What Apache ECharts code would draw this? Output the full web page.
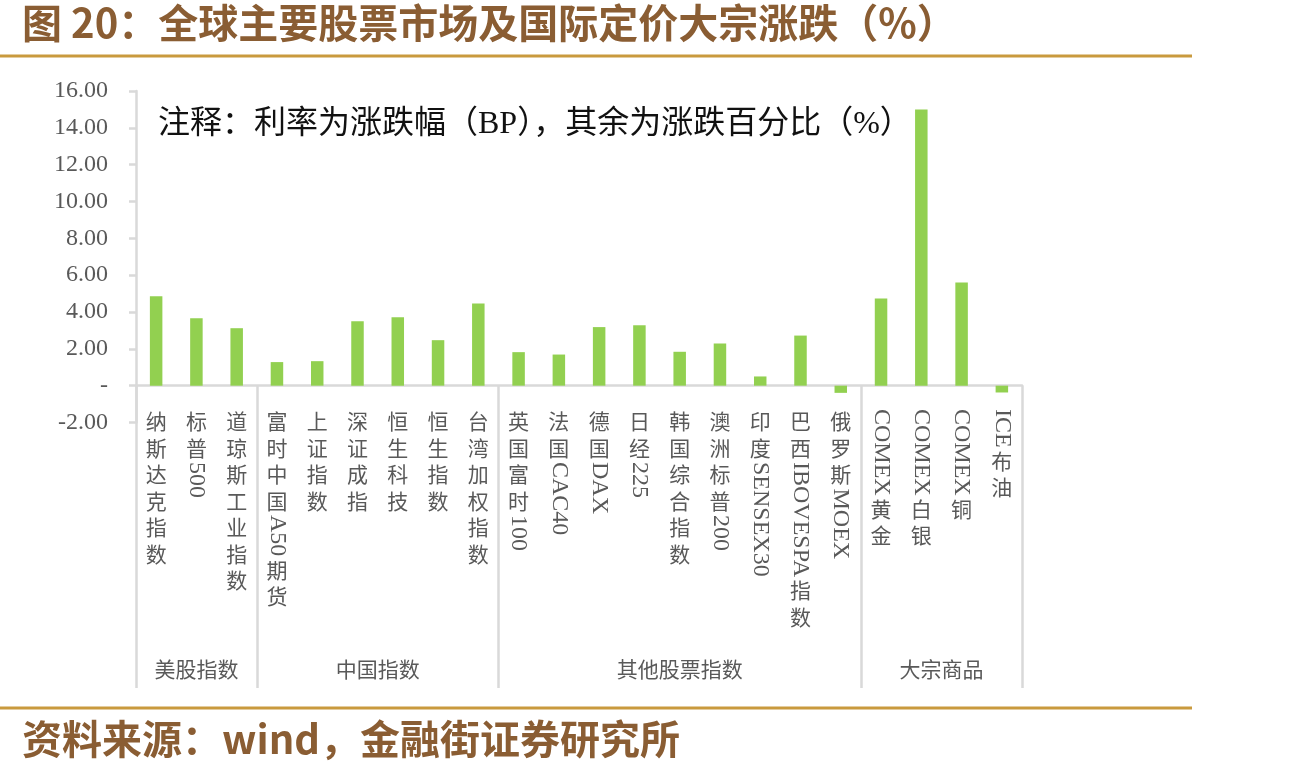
<!DOCTYPE html>
<html>
<head>
<meta charset="utf-8">
<script src="https://cdn.jsdelivr.net/npm/echarts@6/dist/echarts.min.js"></script>
<style>
  html, body { margin: 0; padding: 0; background: #fff; }
  #main { width: 1302px; height: 777px; }
</style>
</head>
<body>
<div id="main"></div>
<script>
// 品种
const categories = [
  '纳斯达克指数', '标普500', '道琼斯工业指数',
  '富时中国A50期货', '上证指数', '深证成指', '恒生科技', '恒生指数', '台湾加权指数',
  '英国富时100', '法国CAC40', '德国DAX', '日经225', '韩国综合指数', '澳洲标普200', '印度SENSEX30', '巴西IBOVESPA指数', '俄罗斯MOEX',
  'COMEX黄金', 'COMEX白银', 'COMEX铜', 'ICE布油'
];
// 涨跌 (%)
const changes = [
  4.86, 3.66, 3.12,
  1.28, 1.33, 3.50, 3.72, 2.47, 4.46,
  1.82, 1.69, 3.18, 3.28, 1.84, 2.29, 0.50, 2.72, -0.39,
  4.73, 15.00, 5.60, -0.37
];
// 分组
const groupNames = ['美股指数', '中国指数', '其他股票指数', '大宗商品'];
const groupBounds = [0, 3, 9, 18, 22];
const groupCenters = [1.5, 6, 13.5, 20];
// y 轴
const yMin = -2, yMax = 16, yStep = 2;

const brown = '#8a5d33';
const gold = '#c99a3e';
const grey = '#595959';
const lineGrey = '#d9d9d9';
const serif = '"Liberation Serif", "Noto Sans CJK SC", serif';
const cjk = '"Noto Sans CJK SC", sans-serif';

const chart = echarts.init(document.getElementById('main'));

const option = {
  backgroundColor: '#fff',
  animation: false,
  grid: { left: 136, right: 280, top: 91, bottom: 354.5, outerBoundsMode: 'none' },
  xAxis: [
    {
      type: 'category',
      data: categories,
      axisLine: { onZero: true, lineStyle: { color: lineGrey, width: 2.5 } },
      axisTick: { show: false },
      axisLabel: { show: false }
    },
    {
      // 分组分隔线 + 分组名
      type: 'value',
      min: 0,
      max: 22,
      position: 'bottom',
      offset: 265.5,
      axisLine: { show: false },
      splitLine: { show: false },
      axisTick: {
        show: true, inside: true, length: 302.5,
        customValues: groupBounds,
        lineStyle: { color: lineGrey, width: 2.5 }
      },
      axisLabel: {
        inside: true, margin: 8,
        customValues: groupCenters,
        color: grey, fontSize: 21, fontFamily: cjk,
        formatter: (v) => groupNames[groupCenters.indexOf(v)] || ''
      }
    }
  ],
  yAxis: {
    type: 'value',
    min: yMin, max: yMax, interval: yStep,
    axisLine: { show: true, lineStyle: { color: lineGrey, width: 2.5 } },
    axisTick: { show: true, length: 7, lineStyle: { color: lineGrey, width: 2.5 } },
    splitLine: { show: false },
    axisLabel: {
      margin: 28, color: grey, fontSize: 24, fontFamily: serif,
      formatter: (v) => (v === 0 ? '-' : v.toFixed(2))
    }
  },
  series: [{
    type: 'bar',
    xAxisIndex: 0,
    data: changes,
    barWidth: 12.5,
    itemStyle: { color: '#92d050' }
  }]
};
chart.setOption(option);

// 竖排分类标签：汉字直立，拉丁字母/数字旋转
const measure = document.createElement('canvas').getContext('2d');
measure.font = '24px "Liberation Serif"';
function verticalLabel(text, cx, top) {
  const els = [];
  let y = top;
  const runs = text.match(/[A-Za-z0-9]+|[^A-Za-z0-9]/g);
  runs.forEach(r => {
    if (/^[A-Za-z0-9]+$/.test(r)) {
      const w = measure.measureText(r).width;
      els.push({
        type: 'text', x: cx, y: y + 1, rotation: -Math.PI / 2, z: 50,
        style: { text: r, fill: grey, fontSize: 24, fontFamily: '"Liberation Serif", serif', align: 'left', verticalAlign: 'middle' }
      });
      y += w + 1;
    } else {
      els.push({
        type: 'text', x: cx, y: y + 13.25, z: 50,
        style: { text: r, fill: grey, fontSize: 21, fontFamily: cjk, align: 'center', verticalAlign: 'middle' }
      });
      y += 26.5;
    }
  });
  return els;
}

const graphics = [
  { type: 'text', left: 22, top: 3, z: 100,
    style: { text: '图 20：全球主要股票市场及国际定价大宗涨跌（%）', fill: brown, fontSize: 40, fontWeight: 'bold', fontFamily: cjk } },
  { type: 'line', z: 100, shape: { x1: 0, y1: 56, x2: 1192, y2: 56 }, style: { stroke: gold, lineWidth: 3 } },
  { type: 'line', z: 100, shape: { x1: 0, y1: 708, x2: 1192, y2: 708 }, style: { stroke: gold, lineWidth: 3 } },
  { type: 'text', left: 22, top: 719, z: 100,
    style: { text: '资料来源：wind，金融街证券研究所', fill: brown, fontSize: 40, fontWeight: 'bold', fontFamily: cjk } },
  { type: 'text', x: 158, y: 125, z: 100,
    style: { text: '注释：利率为涨跌幅（BP），其余为涨跌百分比（%）', fill: '#111', fontSize: 32, fontFamily: serif, verticalAlign: 'middle' } }
];
categories.forEach((c, i) => {
  const cx = chart.convertToPixel({ xAxisIndex: 0 }, i);
  verticalLabel(c, cx, 408).forEach(e => graphics.push(e));
});
chart.setOption({ graphic: graphics });
</script>
</body>
</html>
